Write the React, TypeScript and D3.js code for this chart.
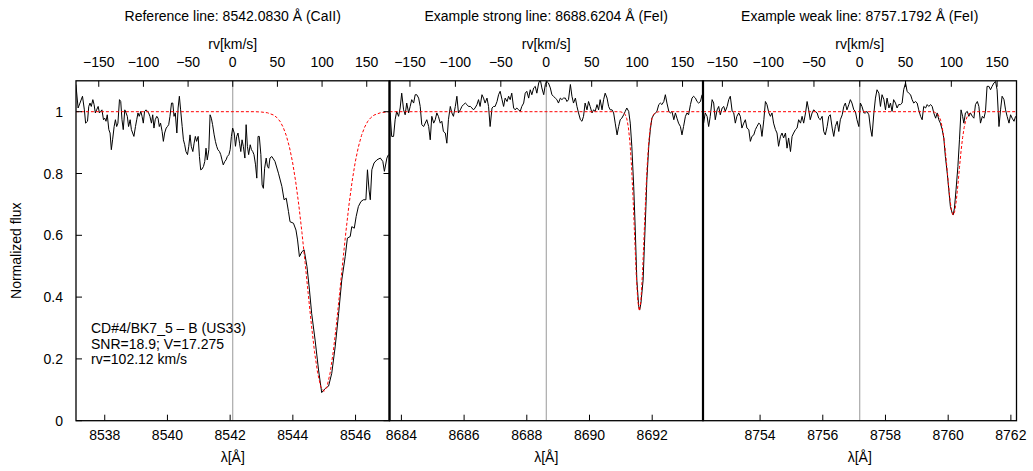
import React from "react";
import * as d3 from "d3";

const C_KMS = 299792.458;
const HALF_WINDOW = 5;
const lineCenters = [8542.083, 8688.6204, 8757.1792];
const titles = [
  "Reference line: 8542.0830 Å (CaII)",
  "Example strong line: 8688.6204 Å (FeI)",
  "Example weak line: 8757.1792 Å (FeI)",
];
const fluxTicks = [0, 0.2, 0.4, 0.6, 0.8, 1];
const rvTicks = [-150, -100, -50, 0, 50, 100, 150];
const lamTicks1 = [8538, 8540, 8542, 8544, 8546];
const lamTicks2 = [8684, 8686, 8688, 8690, 8692];
const lamTicks3 = [8754, 8756, 8758, 8760, 8762];
const legendLines = ["CD#4/BK7_5 – B (US33)", "SNR=18.9; V=17.275", "rv=102.12 km/s"];
const yLabel = "Normalized flux";
const xLabel = "λ[Å]";
const rvLabel = "rv[km/s]";

// observed spectrum, CaII 8542 window: [wavelength Å, normalized flux]
const spec1 = [
  [8537.08,1.088],[8537.15,1.012],[8537.21,1.028],[8537.29,1.050],[8537.35,1.006],[8537.39,0.963],[8537.45,0.969],[8537.49,1.017],
  [8537.53,1.028],[8537.57,1.017],[8537.62,1.039],[8537.66,1.023],[8537.70,0.996],[8537.74,1.006],[8537.79,1.017],[8537.83,0.996],
  [8537.87,1.001],[8537.91,1.006],[8537.96,0.974],[8538.00,0.979],[8538.04,0.969],[8538.08,0.990],[8538.13,0.942],[8538.17,0.931],
  [8538.21,0.877],[8538.25,0.909],[8538.30,0.952],[8538.34,0.974],[8538.38,0.952],[8538.42,0.963],[8538.47,1.039],[8538.51,1.033],
  [8538.55,0.974],[8538.59,0.942],[8538.64,1.006],[8538.68,0.996],[8538.72,0.985],[8538.76,0.952],[8538.81,0.974],[8538.85,0.942],
  [8538.89,0.931],[8538.93,0.920],[8538.98,0.952],[8539.02,0.974],[8539.06,0.996],[8539.10,0.985],[8539.15,1.001],[8539.19,0.985],
  [8539.23,0.963],[8539.27,1.001],[8539.32,1.006],[8539.36,1.001],[8539.40,0.996],[8539.44,0.985],[8539.49,0.963],[8539.53,0.990],
  [8539.57,0.947],[8539.61,0.974],[8539.66,0.985],[8539.70,0.979],[8539.74,0.952],[8539.78,0.963],[8539.83,0.936],[8539.87,0.904],
  [8539.91,0.931],[8539.96,0.947],[8540.00,0.952],[8540.04,0.958],[8540.08,0.985],[8540.13,1.028],[8540.17,1.028],[8540.21,0.985],
  [8540.25,0.996],[8540.30,0.931],[8540.34,1.012],[8540.38,1.050],[8540.42,1.006],[8540.47,0.952],[8540.51,0.909],[8540.55,0.893],
  [8540.59,0.871],[8540.64,0.861],[8540.68,0.888],[8540.72,0.925],[8540.76,0.888],[8540.81,0.871],[8540.85,0.898],[8540.89,0.920],
  [8540.93,0.904],[8540.98,0.920],[8541.02,0.855],[8541.06,0.812],[8541.10,0.814],[8541.15,0.823],[8541.19,0.839],[8541.23,0.882],
  [8541.27,0.844],[8541.32,0.877],[8541.36,0.990],[8541.40,0.979],[8541.44,0.958],[8541.49,0.925],[8541.53,0.904],[8541.57,0.888],
  [8541.61,0.877],[8541.66,0.871],[8541.70,0.861],[8541.74,0.844],[8541.78,0.828],[8541.83,0.839],[8541.87,0.844],[8541.91,0.855],
  [8541.96,0.861],[8542.00,0.877],[8542.04,0.920],[8542.08,0.947],[8542.13,0.931],[8542.17,0.888],[8542.21,0.920],[8542.25,0.931],
  [8542.30,0.898],[8542.34,0.871],[8542.38,0.909],[8542.42,0.888],[8542.47,0.850],[8542.51,0.958],[8542.55,0.888],[8542.59,0.861],
  [8542.64,0.893],[8542.68,0.877],[8542.72,0.871],[8542.76,0.861],[8542.81,0.828],[8542.85,0.785],[8542.89,0.920],[8542.93,0.920],
  [8542.98,0.861],[8543.02,0.763],[8543.06,0.752],[8543.10,0.817],[8543.15,0.850],[8543.19,0.823],[8543.23,0.817],[8543.27,0.850],
  [8543.33,0.855],[8543.43,0.839],[8543.54,0.801],[8543.65,0.758],[8543.72,0.715],[8543.79,0.720],[8543.86,0.677],[8543.91,0.644],
  [8544.02,0.639],[8544.10,0.617],[8544.15,0.585],[8544.21,0.531],[8544.29,0.547],[8544.36,0.553],[8544.45,0.499],[8544.53,0.423],
  [8544.60,0.347],[8544.71,0.261],[8544.82,0.164],[8544.92,0.091],[8545.03,0.104],[8545.14,0.112],[8545.24,0.153],[8545.35,0.239],
  [8545.46,0.347],[8545.56,0.455],[8545.67,0.531],[8545.74,0.591],[8545.83,0.596],[8545.88,0.628],[8545.96,0.623],[8546.02,0.661],
  [8546.09,0.693],[8546.17,0.709],[8546.25,0.715],[8546.33,0.715],[8546.38,0.812],[8546.43,0.747],[8546.47,0.715],[8546.52,0.812],
  [8546.59,0.834],[8546.68,0.844],[8546.79,0.850],[8546.87,0.839],[8546.92,0.807],[8547.00,0.850],[8547.05,0.861],
];

// observed spectrum, FeI 8688 window
const spec2 = [
  [8683.64,0.996],[8683.69,0.920],[8683.75,0.920],[8683.80,0.974],[8683.85,1.001],[8683.91,0.985],[8683.96,1.012],[8684.01,1.060],
  [8684.07,1.006],[8684.12,0.990],[8684.17,1.028],[8684.23,0.996],[8684.28,1.017],[8684.33,1.039],[8684.39,1.028],[8684.44,1.055],
  [8684.49,1.055],[8684.55,1.044],[8684.60,1.017],[8684.65,0.958],[8684.71,0.952],[8684.76,0.963],[8684.81,0.974],[8684.87,0.952],
  [8684.92,0.909],[8684.97,0.985],[8685.03,0.963],[8685.08,0.974],[8685.13,0.996],[8685.18,0.985],[8685.24,0.963],[8685.29,0.969],
  [8685.34,0.936],[8685.40,0.931],[8685.45,0.898],[8685.50,0.974],[8685.56,1.017],[8685.61,0.996],[8685.66,0.985],[8685.72,1.017],
  [8685.77,1.050],[8685.82,0.996],[8685.88,1.006],[8685.93,1.017],[8685.98,1.023],[8686.04,1.028],[8686.09,1.023],[8686.14,1.017],
  [8686.20,1.017],[8686.25,1.012],[8686.30,1.006],[8686.35,1.012],[8686.41,1.023],[8686.46,1.039],[8686.51,1.017],[8686.57,1.055],
  [8686.62,1.044],[8686.67,1.028],[8686.73,1.044],[8686.78,1.017],[8686.83,0.952],[8686.89,1.012],[8686.94,1.017],[8686.99,1.017],
  [8687.05,1.033],[8687.10,1.055],[8687.15,1.066],[8687.21,1.039],[8687.26,1.017],[8687.31,1.044],[8687.37,1.033],[8687.42,1.050],
  [8687.47,1.039],[8687.52,1.060],[8687.58,1.012],[8687.63,1.006],[8687.68,1.012],[8687.74,1.006],[8687.79,1.001],[8687.84,1.017],
  [8687.90,1.028],[8687.95,1.060],[8688.00,1.066],[8688.06,1.044],[8688.11,1.071],[8688.16,1.055],[8688.22,1.077],[8688.27,1.082],
  [8688.32,1.060],[8688.38,1.093],[8688.43,1.104],[8688.48,1.077],[8688.54,1.055],[8688.59,1.088],[8688.64,1.098],[8688.69,1.093],
  [8688.75,1.077],[8688.80,1.055],[8688.85,1.050],[8688.91,1.044],[8688.96,1.039],[8689.01,1.028],[8689.07,1.044],[8689.12,1.039],
  [8689.17,1.044],[8689.23,1.044],[8689.28,1.033],[8689.33,1.039],[8689.39,1.088],[8689.44,1.050],[8689.49,1.028],[8689.55,1.044],
  [8689.60,1.017],[8689.65,0.996],[8689.71,0.974],[8689.76,0.969],[8689.81,0.985],[8689.86,1.028],[8689.92,1.006],[8689.97,1.033],
  [8690.02,1.017],[8690.08,0.996],[8690.13,1.006],[8690.18,1.001],[8690.24,1.023],[8690.29,1.006],[8690.34,1.039],[8690.40,1.006],
  [8690.45,1.039],[8690.50,1.060],[8690.56,1.044],[8690.61,1.017],[8690.66,1.006],[8690.72,1.006],[8690.77,0.996],[8690.82,0.963],
  [8690.88,0.925],[8690.93,0.952],[8690.98,0.974],[8691.03,0.979],[8691.09,0.990],[8691.14,1.001],[8691.19,1.012],[8691.25,1.001],
  [8691.30,0.963],[8691.35,0.888],[8691.41,0.758],[8691.46,0.617],[8691.51,0.455],[8691.57,0.369],[8691.60,0.358],[8691.64,0.380],
  [8691.71,0.455],[8691.75,0.563],[8691.80,0.693],[8691.83,0.780],[8691.89,0.888],[8691.94,0.942],[8691.99,0.979],[8692.05,0.990],
  [8692.10,0.996],[8692.15,1.001],[8692.21,1.023],[8692.26,1.028],[8692.31,1.023],[8692.37,1.033],[8692.42,1.055],[8692.47,1.028],
  [8692.53,1.001],[8692.58,0.996],[8692.63,1.001],[8692.69,0.974],[8692.74,0.996],[8692.79,0.979],[8692.84,0.963],[8692.90,0.952],
  [8692.95,0.925],[8693.00,0.952],[8693.06,0.985],[8693.11,0.996],[8693.16,0.990],[8693.22,1.023],[8693.27,1.044],[8693.32,1.050],
  [8693.38,1.044],[8693.43,1.033],[8693.48,1.028],[8693.54,1.033],[8693.59,1.055],
];

// observed spectrum, FeI 8757 window
const spec3 = [
  [8752.20,0.963],[8752.25,0.996],[8752.31,0.985],[8752.36,0.952],[8752.41,0.985],[8752.47,1.039],[8752.52,1.028],[8752.57,0.974],
  [8752.63,1.006],[8752.68,1.017],[8752.73,0.990],[8752.79,1.012],[8752.84,1.017],[8752.89,1.001],[8752.95,1.017],[8753.00,1.039],
  [8753.05,1.050],[8753.11,1.001],[8753.16,0.996],[8753.21,0.963],[8753.26,0.985],[8753.32,0.996],[8753.37,0.985],[8753.42,0.947],
  [8753.48,0.963],[8753.53,0.974],[8753.58,0.947],[8753.64,0.942],[8753.69,0.904],[8753.74,0.920],[8753.80,0.925],[8753.85,0.942],
  [8753.90,0.952],[8753.96,0.963],[8754.01,0.958],[8754.06,0.920],[8754.12,0.974],[8754.17,1.033],[8754.22,1.023],[8754.28,0.996],
  [8754.33,0.985],[8754.38,0.996],[8754.43,0.963],[8754.49,0.942],[8754.54,0.931],[8754.59,0.888],[8754.65,0.920],[8754.70,0.931],
  [8754.75,0.915],[8754.81,0.931],[8754.86,0.882],[8754.91,0.915],[8754.97,0.871],[8755.02,0.920],[8755.07,0.931],[8755.13,0.942],
  [8755.18,0.947],[8755.23,0.974],[8755.29,0.963],[8755.34,0.985],[8755.39,0.963],[8755.45,0.996],[8755.50,1.033],[8755.55,1.006],
  [8755.60,0.974],[8755.66,0.996],[8755.71,1.006],[8755.76,1.001],[8755.82,0.996],[8755.87,0.979],[8755.92,0.974],[8755.98,0.985],
  [8756.03,0.936],[8756.08,0.925],[8756.14,0.952],[8756.19,0.985],[8756.24,0.990],[8756.30,0.947],[8756.35,0.920],[8756.40,0.952],
  [8756.46,0.969],[8756.51,0.936],[8756.56,0.974],[8756.62,0.990],[8756.67,1.017],[8756.72,1.028],[8756.77,1.006],[8756.83,1.023],
  [8756.88,1.039],[8756.93,1.028],[8756.99,1.006],[8757.04,1.001],[8757.09,0.974],[8757.15,0.952],[8757.20,1.028],[8757.25,1.017],
  [8757.31,0.996],[8757.36,0.996],[8757.41,1.001],[8757.47,0.990],[8757.52,0.947],[8757.57,0.920],[8757.63,0.996],[8757.68,1.044],
  [8757.73,1.071],[8757.79,1.060],[8757.84,1.017],[8757.89,1.055],[8757.95,1.039],[8758.00,1.006],[8758.05,1.044],[8758.11,1.012],
  [8758.16,1.028],[8758.21,1.001],[8758.26,1.039],[8758.32,1.028],[8758.37,1.012],[8758.42,1.023],[8758.48,1.023],[8758.53,1.028],
  [8758.58,1.071],[8758.64,1.093],[8758.69,1.066],[8758.74,1.060],[8758.80,1.055],[8758.85,1.039],[8758.90,1.028],[8758.96,1.033],
  [8759.01,1.028],[8759.06,1.006],[8759.12,0.985],[8759.17,0.974],[8759.22,1.017],[8759.28,1.012],[8759.33,1.023],[8759.38,1.017],
  [8759.44,1.023],[8759.49,1.017],[8759.54,0.996],[8759.60,0.979],[8759.65,0.996],[8759.70,0.974],[8759.75,0.963],[8759.81,0.942],
  [8759.86,0.915],[8759.91,0.855],[8759.97,0.801],[8760.02,0.747],[8760.07,0.693],[8760.13,0.671],[8760.16,0.666],[8760.20,0.688],
  [8760.25,0.747],[8760.31,0.823],[8760.36,0.909],[8760.41,1.006],[8760.46,0.985],[8760.50,0.963],[8760.55,0.996],[8760.61,1.001],
  [8760.66,0.985],[8760.71,0.996],[8760.77,0.985],[8760.82,0.979],[8760.87,1.023],[8760.93,1.033],[8760.98,1.017],[8761.03,0.963],
  [8761.09,0.985],[8761.14,0.979],[8761.19,1.001],[8761.24,1.082],[8761.30,1.082],[8761.35,1.071],[8761.40,1.082],[8761.46,1.093],
  [8761.51,1.098],[8761.56,1.071],[8761.62,0.952],[8761.67,1.006],[8761.72,1.050],[8761.78,1.039],[8761.83,1.006],[8761.88,0.985],
  [8761.94,0.963],[8761.99,0.990],[8762.04,0.979],[8762.10,0.969],[8762.15,0.985],
];

// fitted model profiles (red dashed)
const model1 = [
  [8537.08,1.0],[8542.79,1.0],[8542.99,0.999],[8543.19,0.9965],[8543.39,0.989],[8543.49,0.981],[8543.59,0.969],[8543.69,0.950],
  [8543.79,0.923],[8543.89,0.886],[8543.99,0.837],[8544.09,0.774],[8544.19,0.698],[8544.29,0.609],[8544.39,0.512],[8544.49,0.411],
  [8544.59,0.312],[8544.69,0.224],[8544.79,0.155],[8544.89,0.110],[8544.99,0.095],[8545.09,0.110],[8545.19,0.155],[8545.29,0.224],
  [8545.39,0.312],[8545.49,0.411],[8545.59,0.512],[8545.69,0.609],[8545.79,0.698],[8545.89,0.774],[8545.99,0.837],[8546.09,0.886],
  [8546.19,0.923],[8546.29,0.950],[8546.39,0.969],[8546.49,0.981],[8546.59,0.989],[8546.79,0.9965],[8546.99,0.999],[8547.08,1.0],
];
const model2 = [
  [8683.62,1.0],[8690.89,1.0],[8690.99,0.9996],[8691.09,0.9965],[8691.14,0.9905],[8691.19,0.977],[8691.24,0.950],[8691.29,0.901],
  [8691.34,0.825],[8691.39,0.720],[8691.44,0.596],[8691.49,0.476],[8691.54,0.388],[8691.59,0.355],[8691.64,0.388],[8691.69,0.476],
  [8691.74,0.596],[8691.79,0.720],[8691.84,0.825],[8691.89,0.901],[8691.94,0.950],[8691.99,0.977],[8692.04,0.9905],[8692.09,0.9965],
  [8692.19,0.9996],[8692.29,1.0],[8693.62,1.0],
];
const model3 = [
  [8752.18,1.0],[8759.46,1.0],[8759.56,0.9987],[8759.66,0.993],[8759.71,0.985],[8759.76,0.972],[8759.81,0.949],[8759.86,0.916],
  [8759.91,0.872],[8759.96,0.819],[8760.01,0.763],[8760.06,0.713],[8760.11,0.678],[8760.16,0.665],[8760.21,0.678],[8760.26,0.713],
  [8760.31,0.763],[8760.36,0.819],[8760.41,0.872],[8760.46,0.916],[8760.51,0.949],[8760.56,0.972],[8760.61,0.985],[8760.66,0.993],
  [8760.76,0.9987],[8760.86,1.0],[8762.18,1.0],
];

const W = 1033;
const H = 471;
const LEFT = 76;
const RIGHT = 1016.5;
const TOP = 80.8;
const BOTTOM = 420.7;
const FONT = "'Liberation Sans', Arial, Helvetica, sans-serif";
const FS = 14;
const TICK = 6;

const fmt = (v: number) => String(v).replace("-", "\u2212");

export default function App() {
  const pw = (RIGHT - LEFT) / 3;
  const y = d3.scaleLinear().domain([0, 1.1]).range([BOTTOM, TOP]);
  const specs = [spec1, spec2, spec3];
  const models = [model1, model2, model3];
  const lamTicks = [lamTicks1, lamTicks2, lamTicks3];

  return (
    <svg
      width={W}
      height={H}
      style={{ position: "absolute", left: 0, top: 0, background: "#fff" }}
      fontFamily={FONT}
      fontSize={FS}
    >
      <rect x={0} y={0} width={W} height={H} fill="#fff" />
      <defs>
        {lineCenters.map((lc, i) => (
          <clipPath id={`clip${i}`} key={i}>
            <rect x={LEFT + i * pw} y={TOP} width={pw} height={BOTTOM - TOP} />
          </clipPath>
        ))}
      </defs>
      {lineCenters.map((lc, i) => {
        const x0 = LEFT + i * pw;
        const x1 = x0 + pw;
        const x = d3.scaleLinear().domain([lc - HALF_WINDOW, lc + HALF_WINDOW]).range([x0, x1]);
        const rv = d3
          .scaleLinear()
          .domain([(-HALF_WINDOW * C_KMS) / lc, (HALF_WINDOW * C_KMS) / lc])
          .range([x0, x1]);
        const line = d3
          .line<number[]>()
          .x((d) => x(d[0]))
          .y((d) => y(d[1]));
        const cx = (x0 + x1) / 2;
        return (
          <g key={i}>
            <text x={cx} y={21} textAnchor="middle">{titles[i]}</text>
            <text x={cx} y={49} textAnchor="middle">{rvLabel}</text>
            <text x={cx} y={462} textAnchor="middle">{xLabel}</text>
            <g clipPath={`url(#clip${i})`}>
              <line x1={x(lc)} x2={x(lc)} y1={TOP} y2={BOTTOM} stroke="#999" strokeWidth={1} />
              <path d={line(specs[i] as number[][]) || ""} fill="none" stroke="#000" strokeWidth={1} />
              <path
                d={line(models[i] as number[][]) || ""}
                fill="none"
                stroke="#ff0000"
                strokeWidth={1}
                strokeDasharray="3,2"
              />
            </g>
            {lamTicks[i].map((t) => (
              <g key={`b${t}`}>
                <line x1={x(t)} x2={x(t)} y1={BOTTOM} y2={BOTTOM - TICK} stroke="#000" strokeWidth={1} />
                <text x={x(t)} y={440} textAnchor="middle">{t}</text>
              </g>
            ))}
            {rvTicks.map((t) => (
              <g key={`t${t}`}>
                <line x1={rv(t)} x2={rv(t)} y1={TOP} y2={TOP + TICK} stroke="#000" strokeWidth={1} />
                <text x={rv(t)} y={66.5} textAnchor="middle">{fmt(t)}</text>
              </g>
            ))}
            {i === 0 &&
              fluxTicks.map((t) => (
                <g key={`y${t}`}>
                  <line x1={x0} x2={x0 + TICK} y1={y(t)} y2={y(t)} stroke="#000" strokeWidth={1} />
                  <line x1={x1 - TICK} x2={x1} y1={y(t)} y2={y(t)} stroke="#000" strokeWidth={1} />
                  <text x={63} y={y(t) + 5} textAnchor="end">{String(t)}</text>
                </g>
              ))}
            <rect x={x0} y={TOP} width={pw} height={BOTTOM - TOP} fill="none" stroke="#000" strokeWidth={1.3} />
          </g>
        );
      })}
      {[1, 2].map((k) => (
        <line
          key={k}
          x1={LEFT + k * pw}
          x2={LEFT + k * pw}
          y1={TOP}
          y2={BOTTOM}
          stroke="#000"
          strokeWidth={2.2}
        />
      ))}
      <text transform={`translate(21,${(TOP + BOTTOM) / 2}) rotate(-90)`} textAnchor="middle">
        {yLabel}
      </text>
      {legendLines.map((s, j) => (
        <text key={j} x={91} y={333 + j * 15.5}>{s}</text>
      ))}
    </svg>
  );
}
